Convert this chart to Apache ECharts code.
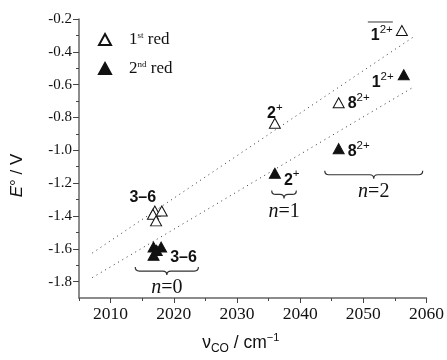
<!DOCTYPE html>
<html><head><meta charset="utf-8">
<script src="https://cdn.jsdelivr.net/npm/echarts@6/dist/echarts.min.js"></script>
<style>html,body{margin:0;padding:0;background:#fff}#c{width:447px;height:360px}</style>
</head><body><div id="c"></div>
<script>
// ---- data ----
const openX = [2056.1, 2046.1, 2036.0, 2017.0, 2018.1, 2016.7, 2017.2];
const openY = [-0.27, -0.71, -0.835, -1.37, -1.37, -1.39, -1.43];
const filledX = [2056.4, 2046.1, 2036.0, 2016.8, 2018.0, 2016.8, 2017.3];
const filledY = [-0.54, -0.99, -1.14, -1.59, -1.59, -1.64, -1.61];
const openNames = ['1', '8', '2', '3–6', '', '', ''];
const openCharges = ['2+', '2+', '+', '', '', '', ''];
const filledNames = ['1', '8', '2', '', '3–6', '', ''];
const filledCharges = ['2+', '2+', '+', '', '', '', ''];
const fitX = [2007.1, 2057.8];
const fitUpper = [-1.626, -0.313];
const fitLower = [-1.776, -0.618];
const braceX1 = [2013.9, 2035.5, 2043.9];
const braceX2 = [2023.9, 2039.4, 2059.4];
const braceY = [-1.736, -1.269, -1.149];
const braceN = ['0', '1', '2'];
const xTicks = [2010, 2020, 2030, 2040, 2050, 2060];
const xMinor = [2005, 2015, 2025, 2035, 2045, 2055];
const yTicks = [-1.8, -1.6, -1.4, -1.2, -1.0, -0.8, -0.6, -0.4, -0.2];
const yMinor = [-1.7, -1.5, -1.3, -1.1, -0.9, -0.7, -0.5, -0.3];
const seriesNames = ['1st red', '2nd red'];

// ---- styles ----
const SANS = 'Liberation Sans';
const SERIF = 'Liberation Serif';
const TXT = '#111';
const AX = '#666';
const rich = {
  b: {fontFamily: SANS, fontWeight: 'bold', fontSize: 16, color: TXT, verticalAlign: 'bottom', lineHeight: 18},
  sup: {fontFamily: SANS, fontWeight: 'normal', fontSize: 11.5, color: TXT, verticalAlign: 'bottom', lineHeight: 12, padding: [0, 0, 8, 0]},
  ol: {width: 25, height: 1, lineHeight: 1, fontSize: 1, backgroundColor: '#333'},
  sp: {height: 3, lineHeight: 3, fontSize: 1}
};
function lbl(name, charge) {
  let s = '{b|' + name + '}';
  if (charge) s += '{sup|' + charge + '}';
  return s;
}
const openLabelCfg = [
  {position: 'left', distance: 3, offset: [0, 2], overline: true},
  {position: 'right', distance: 3, offset: [0, 0]},
  {position: 'top', distance: 0, offset: [0, 4]},
  {position: 'top', distance: 0, offset: [-12, 0]}
];
const filledLabelCfg = [
  {position: 'left', distance: 4, offset: [0, 7]},
  {position: 'right', distance: 3, offset: [0, 2]},
  {position: 'right', distance: 3, offset: [0, 6]},
  null,
  {position: 'right', distance: 3, offset: [0, 9]}
];
function buildPoints(xs, ys, names, charges, cfgs) {
  return xs.map((x, i) => {
    const item = {value: [x, ys[i]]};
    const c = cfgs[i];
    if (c && names[i]) {
      let f = lbl(names[i], charges[i]);
      if (c.overline) f = '{ol| }\n{sp| }\n' + f;
      item.label = {show: true, position: c.position, distance: c.distance, offset: c.offset, formatter: f, rich: rich};
    }
    return item;
  });
}

const chart = echarts.init(document.getElementById('c'), null, {renderer: 'canvas'});
const option = {
  animation: false,
  backgroundColor: '#fff',
  grid: {left: 79, right: 20, top: 19, bottom: 57},
  legend: {
    data: seriesNames,
    orient: 'vertical',
    left: 93, top: 26,
    itemGap: 12,
    itemWidth: 12, itemHeight: 11,
    icon: 'triangle',
    formatter: n => n === seriesNames[0] ? '1{s|st} red' : '2{s|nd} red',
    textStyle: {
      fontFamily: SERIF, fontSize: 17, color: TXT, padding: [0, 0, 0, 13],
      rich: {s: {fontFamily: SERIF, fontSize: 9, color: TXT, padding: [0, 0, 8, 0]}}
    }
  },
  xAxis: [{
    type: 'value', min: 2005, max: 2060, position: 'bottom',
    axisLine: {show: true, lineStyle: {color: AX, width: 1.5}},
    axisTick: {show: true, length: 5, lineStyle: {color: '#444'}, customValues: xTicks},
    axisLabel: {customValues: xTicks, fontFamily: SERIF, fontSize: 17.5, color: TXT, margin: 7,
      formatter: v => String(v)},
    splitLine: {show: false},
    name: '{v|ν}{s|CO}{v| / cm}{p|−1}',
    nameLocation: 'middle', nameGap: 34,
    nameTextStyle: {
      padding: [0, 24, 0, 0],
      rich: {
        v: {fontFamily: SANS, fontSize: 17.5, color: TXT, verticalAlign: 'bottom', padding: [0, 0, 3, 0]},
        s: {fontFamily: SANS, fontSize: 12, color: TXT, verticalAlign: 'bottom'},
        p: {fontFamily: SANS, fontSize: 11, color: TXT, verticalAlign: 'bottom', padding: [0, 0, 12, 0]}
      }
    }
  }, {
    type: 'value', min: 2005, max: 2060, position: 'bottom',
    axisLine: {show: false},
    axisTick: {show: true, length: 3, lineStyle: {color: '#444'}, customValues: xMinor},
    axisLabel: {show: false},
    splitLine: {show: false}
  }],
  yAxis: [{
    type: 'value', min: -1.9, max: -0.2, position: 'left',
    axisLine: {show: true, lineStyle: {color: AX, width: 1.5}},
    axisTick: {show: true, length: 6, lineStyle: {color: '#444'}, customValues: yTicks},
    axisLabel: {customValues: yTicks, fontFamily: SERIF, fontSize: 15, color: TXT, margin: 7,
      formatter: v => v.toFixed(1)},
    splitLine: {show: false},
    name: '{i|E}° / V',
    nameLocation: 'middle', nameGap: 53, nameRotate: 90,
    nameTextStyle: {
      fontFamily: SANS, fontSize: 17, color: TXT, padding: [0, 34, 0, 0],
      rich: {i: {fontFamily: SANS, fontSize: 17, fontStyle: 'italic', color: TXT}}
    }
  }, {
    type: 'value', min: -1.9, max: -0.2, position: 'left',
    axisLine: {show: false},
    axisTick: {show: true, length: 3, lineStyle: {color: '#444'}, customValues: yMinor},
    axisLabel: {show: false},
    splitLine: {show: false}
  }],
  series: [
    {
      type: 'line', data: fitX.map((x, i) => [x, fitUpper[i]]), showSymbol: false, silent: true,
      lineStyle: {color: '#333', width: 1, type: [1, 4]}
    },
    {
      type: 'line', data: fitX.map((x, i) => [x, fitLower[i]]), showSymbol: false, silent: true,
      lineStyle: {color: '#333', width: 1, type: [1, 4]}
    },
    {
      name: seriesNames[0], type: 'scatter', symbol: 'triangle', symbolSize: [11, 10],
      itemStyle: {color: '#fff', borderColor: '#111', borderWidth: 1, opacity: 1},
      data: buildPoints(openX, openY, openNames, openCharges, openLabelCfg), z: 3
    },
    {
      name: seriesNames[1], type: 'scatter', symbol: 'triangle', symbolSize: [11, 10],
      itemStyle: {color: '#111', borderColor: '#111', borderWidth: 1, opacity: 1},
      data: buildPoints(filledX, filledY, filledNames, filledCharges, filledLabelCfg), z: 3
    },
    {
      type: 'custom', silent: true, clip: false,
      data: braceX1.map((x, i) => [x, braceX2[i], braceY[i], i]),
      encode: {x: [0, 1], y: 2},
      renderItem: (params, api) => {
        const p1 = api.coord([api.value(0), api.value(2)]);
        const p2 = api.coord([api.value(1), api.value(2)]);
        const xa = p1[0], xb = p2[0], yy = p1[1], xm = (xa + xb) / 2, h = 4;
        const d = `M${xa} ${yy - h} Q${xa} ${yy} ${xa + h} ${yy} L${xm - h} ${yy} Q${xm} ${yy} ${xm} ${yy + h} ` +
          `Q${xm} ${yy} ${xm + h} ${yy} L${xb - h} ${yy} Q${xb} ${yy} ${xb} ${yy - h}`;
        return {
          type: 'group',
          children: [
            {type: 'path', shape: {pathData: d}, style: {fill: 'none', stroke: '#333', lineWidth: 1.2}},
            {type: 'text', x: xm, y: yy + 17, style: {
              text: '{i|n}{r|=' + braceN[api.value(3)] + '}', align: 'center', verticalAlign: 'middle',
              rich: {
                i: {fontFamily: SERIF, fontStyle: 'italic', fontSize: 20, fill: TXT},
                r: {fontFamily: SERIF, fontSize: 20, fill: TXT}
              }
            }}
          ]
        };
      }
    }
  ]
};
chart.setOption(option);
</script>
</body></html>
